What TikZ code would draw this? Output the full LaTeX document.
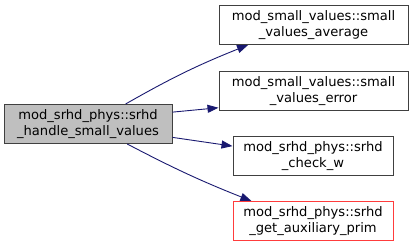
\documentclass[tikz,border=0pt]{standalone}
\usepackage{fontspec}
\setmainfont{DejaVu Sans}
\usetikzlibrary{arrows.meta}
\definecolor{edgeblue}{RGB}{25,25,112}
\definecolor{boxgray}{RGB}{191,191,191}
\definecolor{borderdark}{RGB}{64,64,64}
\definecolor{cutred}{RGB}{255,60,60}
\begin{document}
\begin{tikzpicture}[x=1pt,y=1pt,
    fn/.style={draw=borderdark,line width=1pt,fill=white,inner sep=0pt,
      align=center,minimum height=39pt,font=\fontsize{13.1}{16}\selectfont},
    call/.style={draw=edgeblue,line width=0.9pt,
      -{Triangle[length=11pt,width=8pt]}}]
    \useasboundingbox (0,0) rectangle (413,-248);
    % caller
    \node [fn,fill=boxgray,minimum width=168pt] (handle) at (88,-124)
      {mod\_srhd\_phys::srhd\\\_handle\_small\_values};
    % callees
    \node [fn,minimum width=189pt] (average) at (313.5,-25)
      {mod\_small\_values::small\\\_values\_average};
    \node [fn,minimum width=189pt] (error) at (313.5,-91)
      {mod\_small\_values::small\\\_values\_error};
    \node [fn,minimum width=160pt] (checkw) at (313,-156)
      {mod\_srhd\_phys::srhd\\\_check\_w};
    \node [fn,draw=cutred,minimum width=160pt] (auxprim) at (313,-221)
      {mod\_srhd\_phys::srhd\\\_get\_auxiliary\_prim};
    % calls
    \draw [call] (handle.28) to[bend left=4] (average.197);
    \draw [call] (handle.8) -- (error.190);
    \draw [call] (handle.-9) -- (checkw.173);
    \draw [call] (handle.-27) to[bend right=3] (auxprim.162);
\end{tikzpicture}
\end{document}
